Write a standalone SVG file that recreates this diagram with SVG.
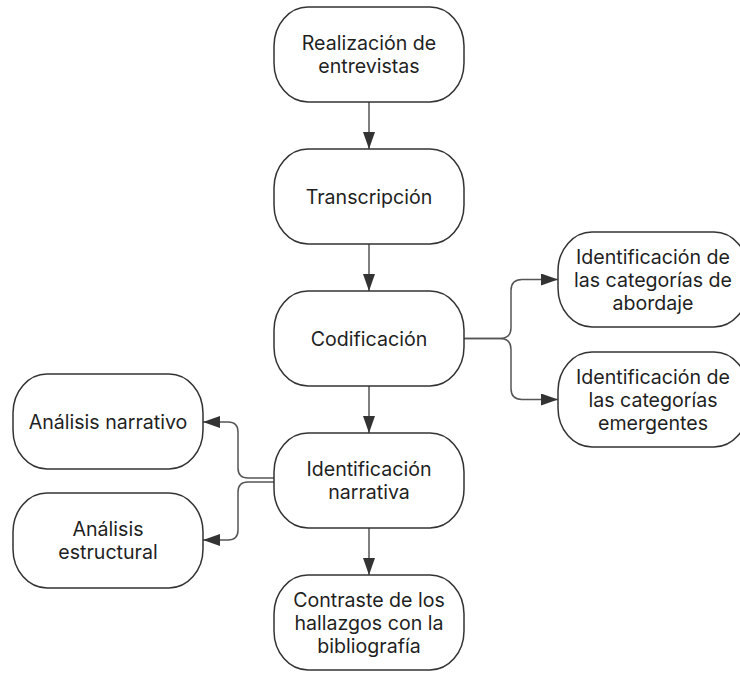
<svg xmlns="http://www.w3.org/2000/svg" width="740" height="673" viewBox="0 0 740 673">
<defs>
<marker id="arr" viewBox="0 0 17 12" refX="17" refY="6" markerWidth="17" markerHeight="12" markerUnits="userSpaceOnUse" orient="auto">
<path d="M0,0 L17,6 L0,12 Z" fill="#333"/>
</marker>
<style>
.n rect{fill:#fff;stroke:#333;stroke-width:1.5}
.n text{font-family:Inter,"Noto Sans",sans-serif;font-size:19.6px;fill:#1f1f1f;text-anchor:middle}
.c path{fill:none;stroke:#555;stroke-width:1.5;marker-end:url(#arr)}
</style>
</defs>
<rect width="740" height="673" fill="#fff"/>
<g class="c" id="connectors">
<path d="M369,102 L369,149"/>
<path d="M369,244 L369,291"/>
<path d="M369,386 L369,433"/>
<path d="M369,528 L369,575"/>
<path d="M464,338.5 L500,338.5 Q511,338.5 511,327.5 L511,290.5 Q511,279.5 522,279.5 L558,279.5"/>
<path d="M464,338.5 L500,338.5 Q511,338.5 511,349.5 L511,388.5 Q511,399.5 522,399.5 L558,399.5"/>
<path d="M274,478 L248,478 Q238,478 238,468 L238,432 Q238,422 228,422 L203,422"/>
<path d="M274,482 L248,482 Q238,482 238,492 L238,530 Q238,540 228,540 L203,540"/>
</g>
<g class="n" id="n1"><rect x="274" y="7" width="190" height="95" rx="34" ry="39"/><text x="369" y="50">Realización de</text><text x="369" y="73">entrevistas</text></g>
<g class="n" id="n2"><rect x="274" y="149" width="190" height="95" rx="34" ry="39"/><text x="369" y="203.5">Transcripción</text></g>
<g class="n" id="n3"><rect x="274" y="291" width="190" height="95" rx="34" ry="39"/><text x="369" y="345.5">Codificación</text></g>
<g class="n" id="n4"><rect x="274" y="433" width="190" height="95" rx="34" ry="39"/><text x="369" y="476">Identificación</text><text x="369" y="499">narrativa</text></g>
<g class="n" id="n5"><rect x="274" y="575" width="190" height="95" rx="34" ry="39"/><text x="369" y="606.5">Contraste de los</text><text x="369" y="629.5">hallazgos con la</text><text x="369" y="652.5">bibliografía</text></g>
<g class="n" id="n6"><rect x="558" y="232" width="190" height="95" rx="34" ry="39"/><text x="653" y="263.5">Identificación de</text><text x="653" y="286.5">las categorías de</text><text x="653" y="309.5">abordaje</text></g>
<g class="n" id="n7"><rect x="558" y="352" width="190" height="95" rx="34" ry="39"/><text x="653" y="383.5">Identificación de</text><text x="653" y="406.5">las categorías</text><text x="653" y="429.5">emergentes</text></g>
<g class="n" id="n8"><rect x="13" y="374" width="190" height="95" rx="34" ry="39"/><text x="108" y="428.5">Análisis narrativo</text></g>
<g class="n" id="n9"><rect x="13" y="493" width="190" height="95" rx="34" ry="39"/><text x="108" y="536">Análisis</text><text x="108" y="559">estructural</text></g>
</svg>
